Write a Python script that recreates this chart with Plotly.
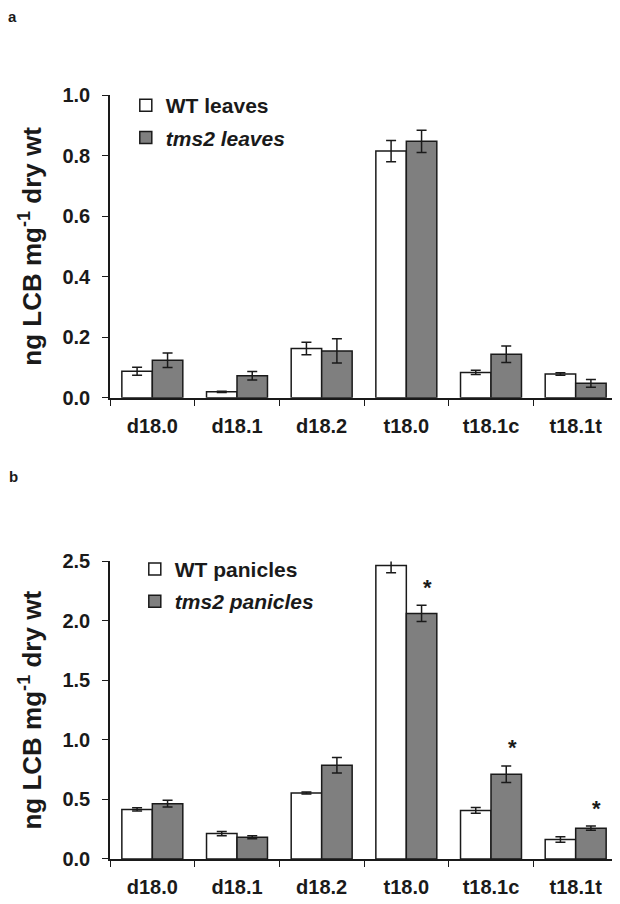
import plotly.graph_objects as go

categories = ["d18.0", "d18.1", "d18.2", "t18.0", "t18.1c", "t18.1t"]

wt_leaves = [0.088, 0.020, 0.163, 0.815, 0.084, 0.079]
wt_leaves_err = [0.013, 0.002, 0.021, 0.035, 0.007, 0.004]
tms2_leaves = [0.124, 0.073, 0.155, 0.847, 0.144, 0.048]
tms2_leaves_err = [0.024, 0.014, 0.040, 0.037, 0.027, 0.013]

wt_panicles = [0.417, 0.214, 0.555, 2.466, 0.408, 0.163]
wt_panicles_err = [0.014, 0.018, 0.008, 0.060, 0.024, 0.023]
tms2_panicles = [0.465, 0.183, 0.788, 2.064, 0.712, 0.259]
tms2_panicles_err = [0.028, 0.013, 0.065, 0.069, 0.070, 0.018]
panicles_significant = [False, False, False, True, True, True]

FONT = "Liberation Sans, Arial, sans-serif"
INK = "#1a1a1a"
GREY = "#7f7f7f"

# the page body adds an 8px offset; the figure is sized so the plot lands where the reference has it
OFF = 8
W, H = 612, 896
ML, MR, MT, MB = 102, 2, 87, 44.7
PW, PH = W - ML - MR, H - MT - MB


def px_to_paper(px, py):
    return (px - OFF - ML) / PW, (H - MB - (py - OFF)) / PH


def bar(name, x, y, err, fill, xa, ya, legend, group):
    return go.Bar(
        name=name, x=x, y=y, xaxis=xa, yaxis=ya, legend=legend, legendgroup=group,
        marker=dict(color=fill, line=dict(color=INK, width=1.5)),
        error_y=dict(type="data", array=err, visible=True, color=INK, thickness=1.5, width=5),
    )


fig = go.Figure()
fig.add_trace(bar("WT leaves", categories, wt_leaves, wt_leaves_err, "white", "x", "y", "legend", "a"))
fig.add_trace(bar("<i>tms2 leaves</i>", categories, tms2_leaves, tms2_leaves_err, GREY, "x", "y", "legend", "b"))
fig.add_trace(bar("WT panicles", categories, wt_panicles, wt_panicles_err, "white", "x2", "y2", "legend2", "c"))
fig.add_trace(bar("<i>tms2 panicles</i>", categories, tms2_panicles, tms2_panicles_err, GREY, "x2", "y2", "legend2", "d"))

annotations = []
for c, v, e, s in zip(categories, tms2_panicles, tms2_panicles_err, panicles_significant):
    if s:
        annotations.append(dict(
            x=c, y=v + e, xref="x2", yref="y2", text="*", showarrow=False,
            xshift=21, yshift=18, yanchor="middle",
            font=dict(family=FONT, size=22, color=INK, weight="bold"),
        ))

letter_font = dict(family=FONT, size=15, color=INK, weight="bold")
for letter, (lx, ly) in (("a", (12.5, 16)), ("b", (13, 477))):
    px, py = px_to_paper(lx, ly)
    annotations.append(dict(x=px, y=py, xref="paper", yref="paper", text=letter,
                            showarrow=False, xanchor="center", yanchor="middle", font=letter_font))

bold20 = dict(family=FONT, size=20, color=INK, weight="bold")
bold21 = dict(family=FONT, size=21, color=INK, weight="bold")

xaxis_common = dict(
    type="category", showline=True, linecolor=INK, linewidth=1.5, showgrid=False,
    ticks="outside", tickson="boundaries", ticklen=6, tickwidth=1.2, tickcolor=INK,
    tickfont=bold20, ticklabelstandoff=9, automargin=False, tickangle=0,
)
yaxis_common = dict(
    showline=True, linecolor=INK, linewidth=1.5, showgrid=False, zeroline=False,
    ticks="outside", ticklen=6, tickwidth=1.2, tickcolor=INK, tickformat=".1f",
    tickfont=bold20, ticklabelstandoff=8, automargin=False,
    title=dict(text="ng LCB mg<sup>-1</sup> dry wt",
               font=dict(family=FONT, size=26, color=INK, weight="bold"), standoff=13),
)

legend_common = dict(xanchor="left", yanchor="top",
                     bgcolor="rgba(0,0,0,0)", font=bold21, tracegroupgap=2, traceorder="grouped")

lx1, ly1 = px_to_paper(125.8, 85)
lx2, ly2 = px_to_paper(134.8, 549)

fig.update_layout(
    width=W, height=H,
    margin=dict(l=ML, r=MR, t=MT, b=MB),
    paper_bgcolor="white", plot_bgcolor="white",
    barmode="group", bargap=0.28, bargroupgap=0,
    font=dict(family=FONT, color=INK),
    xaxis=dict(domain=[0, 1], anchor="y", **xaxis_common),
    yaxis=dict(domain=[0.6036, 1.0], anchor="x", range=[0, 1.0], dtick=0.2, **yaxis_common),
    xaxis2=dict(domain=[0, 1], anchor="y2", **xaxis_common),
    yaxis2=dict(domain=[0, 0.3894], anchor="x2", range=[0, 2.5], dtick=0.5, **yaxis_common),
    legend=dict(x=lx1, y=ly1, **legend_common),
    legend2=dict(x=lx2, y=ly2, **legend_common),
    annotations=annotations,
    showlegend=True,
)

fig.write_html("out.html")
